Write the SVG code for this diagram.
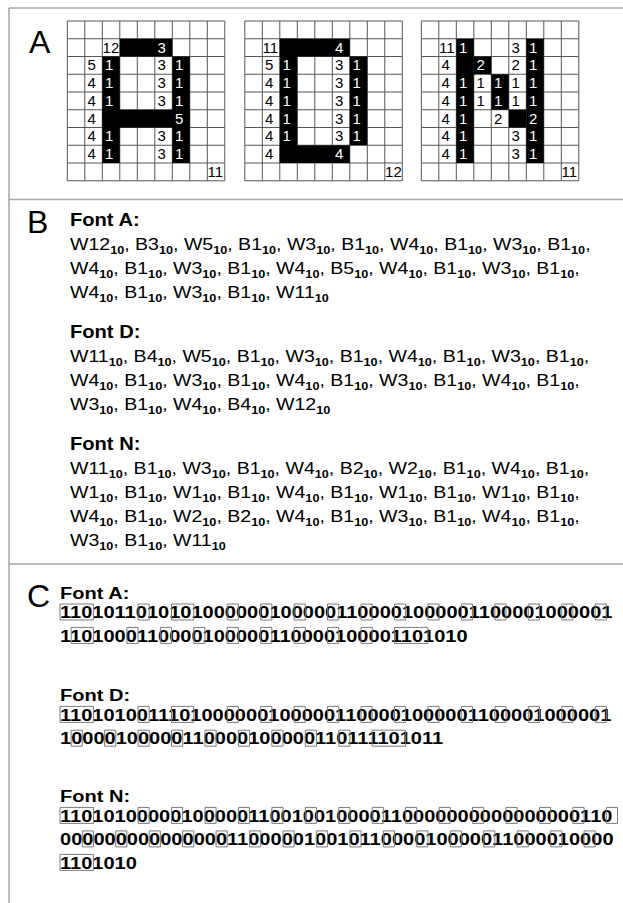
<svg xmlns="http://www.w3.org/2000/svg" width="623" height="903" viewBox="0 0 623 903">
<style>
text{font-family:"Liberation Sans",Arial,sans-serif;fill:#000}
.big{font-size:32px}
.h{font-size:17.5px;font-weight:bold}
.b{font-size:17px}
.s{font-size:11px;font-weight:bold;baseline-shift:-4px}
.c{font-size:17.2px;font-weight:bold}
.gd{font-size:15px}
.wt{fill:#fff}
.frame{fill:none;stroke:#a6a6a6;stroke-width:1.5}
.gl{fill:none;stroke:#555;stroke-width:1}
.bx rect{fill:none;stroke:#7a7a7a;stroke-width:1;height:16px}
</style>
<defs>
<path id="gl" class="gl" d="M0,0V159.75M17.5,0V159.75M35,0V159.75M52.5,0V159.75M70,0V159.75M87.5,0V159.75M105,0V159.75M122.5,0V159.75M140,0V159.75M157.5,0V159.75M0,0H157.5M0,17.75H157.5M0,35.5H157.5M0,53.25H157.5M0,71H157.5M0,88.75H157.5M0,106.5H157.5M0,124.25H157.5M0,142H157.5M0,159.75H157.5"/>
</defs>
<rect width="623" height="903" fill="#fff"/>
<g id="frame">
<path class="frame" d="M9,8H623M9,8V903M9,199.5H623M9,564H623"/>
</g>
<g id="labels">
<text class="big" x="29" y="53">A</text>
<text class="big" x="27" y="233">B</text>
<text class="big" x="27" y="607">C</text>
</g>
<g id="gridA" transform="translate(67.3,21)">
<use href="#gl"/>
<rect x="52.5" y="17.75" width="52.5" height="17.75"/>
<rect x="35" y="35.5" width="17.5" height="106.5"/>
<rect x="105" y="35.5" width="17.5" height="106.5"/>
<rect x="35" y="88.75" width="87.5" height="17.75"/>
<g class="gd" transform="translate(0,0.4)">
<text x="35.3" y="31.35">12</text><text class="wt" x="90.1" y="31.35">3</text>
<text x="20.1" y="49.1">5</text><text class="wt" x="37.6" y="49.1">1</text><text x="90.1" y="49.1">3</text><text class="wt" x="107.6" y="49.1">1</text>
<text x="20.1" y="66.85">4</text><text class="wt" x="37.6" y="66.85">1</text><text x="90.1" y="66.85">3</text><text class="wt" x="107.6" y="66.85">1</text>
<text x="20.1" y="84.6">4</text><text class="wt" x="37.6" y="84.6">1</text><text x="90.1" y="84.6">3</text><text class="wt" x="107.6" y="84.6">1</text>
<text x="20.1" y="102.35">4</text><text class="wt" x="107.6" y="102.35">5</text>
<text x="20.1" y="120.1">4</text><text class="wt" x="37.6" y="120.1">1</text><text x="90.1" y="120.1">3</text><text class="wt" x="107.6" y="120.1">1</text>
<text x="20.1" y="137.85">4</text><text class="wt" x="37.6" y="137.85">1</text><text x="90.1" y="137.85">3</text><text class="wt" x="107.6" y="137.85">1</text>
<text x="140.3" y="155.6">11</text>
</g>
</g>
<g id="gridD" transform="translate(244.8,21)">
<use href="#gl"/>
<rect x="35" y="17.75" width="70" height="17.75"/>
<rect x="35" y="17.75" width="17.5" height="124.25"/>
<rect x="35" y="124.25" width="70" height="17.75"/>
<rect x="105" y="35.5" width="17.5" height="88.75"/>
<g class="gd" transform="translate(0,0.4)">
<text x="17.8" y="31.35">11</text><text class="wt" x="90.1" y="31.35">4</text>
<text x="20.1" y="49.1">5</text><text class="wt" x="37.6" y="49.1">1</text><text x="90.1" y="49.1">3</text><text class="wt" x="107.6" y="49.1">1</text>
<text x="20.1" y="66.85">4</text><text class="wt" x="37.6" y="66.85">1</text><text x="90.1" y="66.85">3</text><text class="wt" x="107.6" y="66.85">1</text>
<text x="20.1" y="84.6">4</text><text class="wt" x="37.6" y="84.6">1</text><text x="90.1" y="84.6">3</text><text class="wt" x="107.6" y="84.6">1</text>
<text x="20.1" y="102.35">4</text><text class="wt" x="37.6" y="102.35">1</text><text x="90.1" y="102.35">3</text><text class="wt" x="107.6" y="102.35">1</text>
<text x="20.1" y="120.1">4</text><text class="wt" x="37.6" y="120.1">1</text><text x="90.1" y="120.1">3</text><text class="wt" x="107.6" y="120.1">1</text>
<text x="20.1" y="137.85">4</text><text class="wt" x="90.1" y="137.85">4</text>
<text x="140.3" y="155.6">12</text>
</g>
</g>
<g id="gridN" transform="translate(421.3,21)">
<use href="#gl"/>
<rect x="35" y="17.75" width="17.5" height="124.25"/>
<rect x="105" y="17.75" width="17.5" height="124.25"/>
<rect x="52.5" y="35.5" width="17.5" height="17.75"/>
<rect x="70" y="53.25" width="17.5" height="35.5"/>
<rect x="87.5" y="88.75" width="17.5" height="17.75"/>
<g class="gd" transform="translate(0,0.4)">
<text x="17.8" y="31.35">11</text><text class="wt" x="37.6" y="31.35">1</text><text x="90.1" y="31.35">3</text><text class="wt" x="107.6" y="31.35">1</text>
<text x="20.1" y="49.1">4</text><text class="wt" x="55.1" y="49.1">2</text><text x="90.1" y="49.1">2</text><text class="wt" x="107.6" y="49.1">1</text>
<text x="20.1" y="66.85">4</text><text class="wt" x="37.6" y="66.85">1</text><text x="55.1" y="66.85">1</text><text class="wt" x="72.6" y="66.85">1</text><text x="90.1" y="66.85">1</text><text class="wt" x="107.6" y="66.85">1</text>
<text x="20.1" y="84.6">4</text><text class="wt" x="37.6" y="84.6">1</text><text x="55.1" y="84.6">1</text><text class="wt" x="72.6" y="84.6">1</text><text x="90.1" y="84.6">1</text><text class="wt" x="107.6" y="84.6">1</text>
<text x="20.1" y="102.35">4</text><text class="wt" x="37.6" y="102.35">1</text><text x="72.6" y="102.35">2</text><text class="wt" x="107.6" y="102.35">2</text>
<text x="20.1" y="120.1">4</text><text class="wt" x="37.6" y="120.1">1</text><text x="90.1" y="120.1">3</text><text class="wt" x="107.6" y="120.1">1</text>
<text x="20.1" y="137.85">4</text><text class="wt" x="37.6" y="137.85">1</text><text x="90.1" y="137.85">3</text><text class="wt" x="107.6" y="137.85">1</text>
<text x="140.3" y="155.6">11</text>
</g>
</g>
<g id="panelB" transform="translate(70,0) scale(1.15,1)">
<text class="h" x="0" y="226">Font A:</text>
<text class="b" x="0" y="250">W12<tspan class="s">10</tspan>, B3<tspan class="s">10</tspan>, W5<tspan class="s">10</tspan>, B1<tspan class="s">10</tspan>, W3<tspan class="s">10</tspan>, B1<tspan class="s">10</tspan>, W4<tspan class="s">10</tspan>, B1<tspan class="s">10</tspan>, W3<tspan class="s">10</tspan>, B1<tspan class="s">10</tspan>,</text>
<text class="b" x="0" y="274">W4<tspan class="s">10</tspan>, B1<tspan class="s">10</tspan>, W3<tspan class="s">10</tspan>, B1<tspan class="s">10</tspan>, W4<tspan class="s">10</tspan>, B5<tspan class="s">10</tspan>, W4<tspan class="s">10</tspan>, B1<tspan class="s">10</tspan>, W3<tspan class="s">10</tspan>, B1<tspan class="s">10</tspan>,</text>
<text class="b" x="0" y="298">W4<tspan class="s">10</tspan>, B1<tspan class="s">10</tspan>, W3<tspan class="s">10</tspan>, B1<tspan class="s">10</tspan>, W11<tspan class="s">10</tspan></text>
<text class="h" x="0" y="338">Font D:</text>
<text class="b" x="0" y="362">W11<tspan class="s">10</tspan>, B4<tspan class="s">10</tspan>, W5<tspan class="s">10</tspan>, B1<tspan class="s">10</tspan>, W3<tspan class="s">10</tspan>, B1<tspan class="s">10</tspan>, W4<tspan class="s">10</tspan>, B1<tspan class="s">10</tspan>, W3<tspan class="s">10</tspan>, B1<tspan class="s">10</tspan>,</text>
<text class="b" x="0" y="386">W4<tspan class="s">10</tspan>, B1<tspan class="s">10</tspan>, W3<tspan class="s">10</tspan>, B1<tspan class="s">10</tspan>, W4<tspan class="s">10</tspan>, B1<tspan class="s">10</tspan>, W3<tspan class="s">10</tspan>, B1<tspan class="s">10</tspan>, W4<tspan class="s">10</tspan>, B1<tspan class="s">10</tspan>,</text>
<text class="b" x="0" y="410">W3<tspan class="s">10</tspan>, B1<tspan class="s">10</tspan>, W4<tspan class="s">10</tspan>, B4<tspan class="s">10</tspan>, W12<tspan class="s">10</tspan></text>
<text class="h" x="0" y="450">Font N:</text>
<text class="b" x="0" y="474">W11<tspan class="s">10</tspan>, B1<tspan class="s">10</tspan>, W3<tspan class="s">10</tspan>, B1<tspan class="s">10</tspan>, W4<tspan class="s">10</tspan>, B2<tspan class="s">10</tspan>, W2<tspan class="s">10</tspan>, B1<tspan class="s">10</tspan>, W4<tspan class="s">10</tspan>, B1<tspan class="s">10</tspan>,</text>
<text class="b" x="0" y="498">W1<tspan class="s">10</tspan>, B1<tspan class="s">10</tspan>, W1<tspan class="s">10</tspan>, B1<tspan class="s">10</tspan>, W4<tspan class="s">10</tspan>, B1<tspan class="s">10</tspan>, W1<tspan class="s">10</tspan>, B1<tspan class="s">10</tspan>, W1<tspan class="s">10</tspan>, B1<tspan class="s">10</tspan>,</text>
<text class="b" x="0" y="522">W4<tspan class="s">10</tspan>, B1<tspan class="s">10</tspan>, W2<tspan class="s">10</tspan>, B2<tspan class="s">10</tspan>, W4<tspan class="s">10</tspan>, B1<tspan class="s">10</tspan>, W3<tspan class="s">10</tspan>, B1<tspan class="s">10</tspan>, W4<tspan class="s">10</tspan>, B1<tspan class="s">10</tspan>,</text>
<text class="b" x="0" y="546">W3<tspan class="s">10</tspan>, B1<tspan class="s">10</tspan>, W11<tspan class="s">10</tspan></text>
</g>
<g id="panelC">
<g transform="translate(60,0) scale(1.1656,1)">
<text class="c" x="0" y="599">Font A:</text>
<text class="c" x="0" y="618.3">11010110101010000001000001100001000001100001000001</text>
<text class="c" x="0" y="641.7">1101000110000100000110000100001101010</text>
<text class="c" x="0" y="701.5">Font D:</text>
<text class="c" x="0" y="720.7">11010100111010000001000001100001000001100001000001</text>
<text class="c" x="0" y="744.5">10000100000110000100000110111101011</text>
<text class="c" x="0" y="802.5">Font N:</text>
<text class="c" x="0" y="821.7">11010100000100000110010010000110000000000000000110</text>
<text class="c" x="0" y="845.2">00000000000000011000001001011000010000011000010000</text>
<text class="c" x="0" y="868.7">1101010</text>
</g>
<g class="bx" transform="translate(60,604) scale(11.15,1)">
<rect vector-effect="non-scaling-stroke" x="0" width="3"/><rect vector-effect="non-scaling-stroke" x="7" width="1"/><rect vector-effect="non-scaling-stroke" x="10" width="2"/><rect vector-effect="non-scaling-stroke" x="15" width="1"/><rect vector-effect="non-scaling-stroke" x="18" width="1"/><rect vector-effect="non-scaling-stroke" x="21" width="1"/><rect vector-effect="non-scaling-stroke" x="24" width="1"/><rect vector-effect="non-scaling-stroke" x="27" width="1"/><rect vector-effect="non-scaling-stroke" x="30" width="1"/><rect vector-effect="non-scaling-stroke" x="33" width="1"/><rect vector-effect="non-scaling-stroke" x="36" width="1"/><rect vector-effect="non-scaling-stroke" x="39" width="1"/><rect vector-effect="non-scaling-stroke" x="42" width="1"/><rect vector-effect="non-scaling-stroke" x="45" width="1"/><rect vector-effect="non-scaling-stroke" x="48" width="1"/>
</g>
<g class="bx" transform="translate(60,627.4) scale(11.15,1)">
<rect vector-effect="non-scaling-stroke" x="1" width="2"/><rect vector-effect="non-scaling-stroke" x="6" width="1"/><rect vector-effect="non-scaling-stroke" x="9" width="1"/><rect vector-effect="non-scaling-stroke" x="12" width="1"/><rect vector-effect="non-scaling-stroke" x="15" width="1"/><rect vector-effect="non-scaling-stroke" x="18" width="1"/><rect vector-effect="non-scaling-stroke" x="21" width="1"/><rect vector-effect="non-scaling-stroke" x="24" width="1"/><rect vector-effect="non-scaling-stroke" x="27" width="1"/><rect vector-effect="non-scaling-stroke" x="30" width="3"/>
</g>
<g class="bx" transform="translate(60,706.4) scale(11.15,1)">
<rect vector-effect="non-scaling-stroke" x="0" width="3"/><rect vector-effect="non-scaling-stroke" x="7" width="1"/><rect vector-effect="non-scaling-stroke" x="10" width="2"/><rect vector-effect="non-scaling-stroke" x="15" width="1"/><rect vector-effect="non-scaling-stroke" x="18" width="1"/><rect vector-effect="non-scaling-stroke" x="21" width="1"/><rect vector-effect="non-scaling-stroke" x="24" width="1"/><rect vector-effect="non-scaling-stroke" x="27" width="1"/><rect vector-effect="non-scaling-stroke" x="30" width="1"/><rect vector-effect="non-scaling-stroke" x="33" width="1"/><rect vector-effect="non-scaling-stroke" x="36" width="1"/><rect vector-effect="non-scaling-stroke" x="39" width="1"/><rect vector-effect="non-scaling-stroke" x="42" width="1"/><rect vector-effect="non-scaling-stroke" x="45" width="1"/><rect vector-effect="non-scaling-stroke" x="48" width="1"/>
</g>
<g class="bx" transform="translate(60,730.2) scale(11.15,1)">
<rect vector-effect="non-scaling-stroke" x="1" width="1"/><rect vector-effect="non-scaling-stroke" x="4" width="1"/><rect vector-effect="non-scaling-stroke" x="7" width="1"/><rect vector-effect="non-scaling-stroke" x="10" width="1"/><rect vector-effect="non-scaling-stroke" x="13" width="1"/><rect vector-effect="non-scaling-stroke" x="16" width="1"/><rect vector-effect="non-scaling-stroke" x="19" width="1"/><rect vector-effect="non-scaling-stroke" x="22" width="1"/><rect vector-effect="non-scaling-stroke" x="25" width="1"/><rect vector-effect="non-scaling-stroke" x="28" width="3"/>
</g>
<g class="bx" transform="translate(60,807.4) scale(11.15,1)">
<rect vector-effect="non-scaling-stroke" x="0" width="3"/><rect vector-effect="non-scaling-stroke" x="7" width="1"/><rect vector-effect="non-scaling-stroke" x="10" width="1"/><rect vector-effect="non-scaling-stroke" x="13" width="1"/><rect vector-effect="non-scaling-stroke" x="16" width="1"/><rect vector-effect="non-scaling-stroke" x="19" width="1"/><rect vector-effect="non-scaling-stroke" x="22" width="1"/><rect vector-effect="non-scaling-stroke" x="25" width="1"/><rect vector-effect="non-scaling-stroke" x="28" width="1"/><rect vector-effect="non-scaling-stroke" x="31" width="1"/><rect vector-effect="non-scaling-stroke" x="34" width="1"/><rect vector-effect="non-scaling-stroke" x="37" width="1"/><rect vector-effect="non-scaling-stroke" x="40" width="1"/><rect vector-effect="non-scaling-stroke" x="43" width="1"/><rect vector-effect="non-scaling-stroke" x="46" width="1"/><rect vector-effect="non-scaling-stroke" x="49" width="1"/>
</g>
<g class="bx" transform="translate(60,830.9) scale(11.15,1)">
<rect vector-effect="non-scaling-stroke" x="2" width="1"/><rect vector-effect="non-scaling-stroke" x="5" width="1"/><rect vector-effect="non-scaling-stroke" x="8" width="1"/><rect vector-effect="non-scaling-stroke" x="11" width="1"/><rect vector-effect="non-scaling-stroke" x="14" width="1"/><rect vector-effect="non-scaling-stroke" x="17" width="1"/><rect vector-effect="non-scaling-stroke" x="20" width="1"/><rect vector-effect="non-scaling-stroke" x="23" width="1"/><rect vector-effect="non-scaling-stroke" x="26" width="1"/><rect vector-effect="non-scaling-stroke" x="29" width="1"/><rect vector-effect="non-scaling-stroke" x="32" width="1"/><rect vector-effect="non-scaling-stroke" x="35" width="1"/><rect vector-effect="non-scaling-stroke" x="38" width="1"/><rect vector-effect="non-scaling-stroke" x="41" width="1"/><rect vector-effect="non-scaling-stroke" x="44" width="1"/><rect vector-effect="non-scaling-stroke" x="47" width="1"/>
</g>
<g class="bx" transform="translate(60,854.4) scale(11.15,1)">
<rect vector-effect="non-scaling-stroke" x="0" width="3"/>
</g>
</g>
</svg>
